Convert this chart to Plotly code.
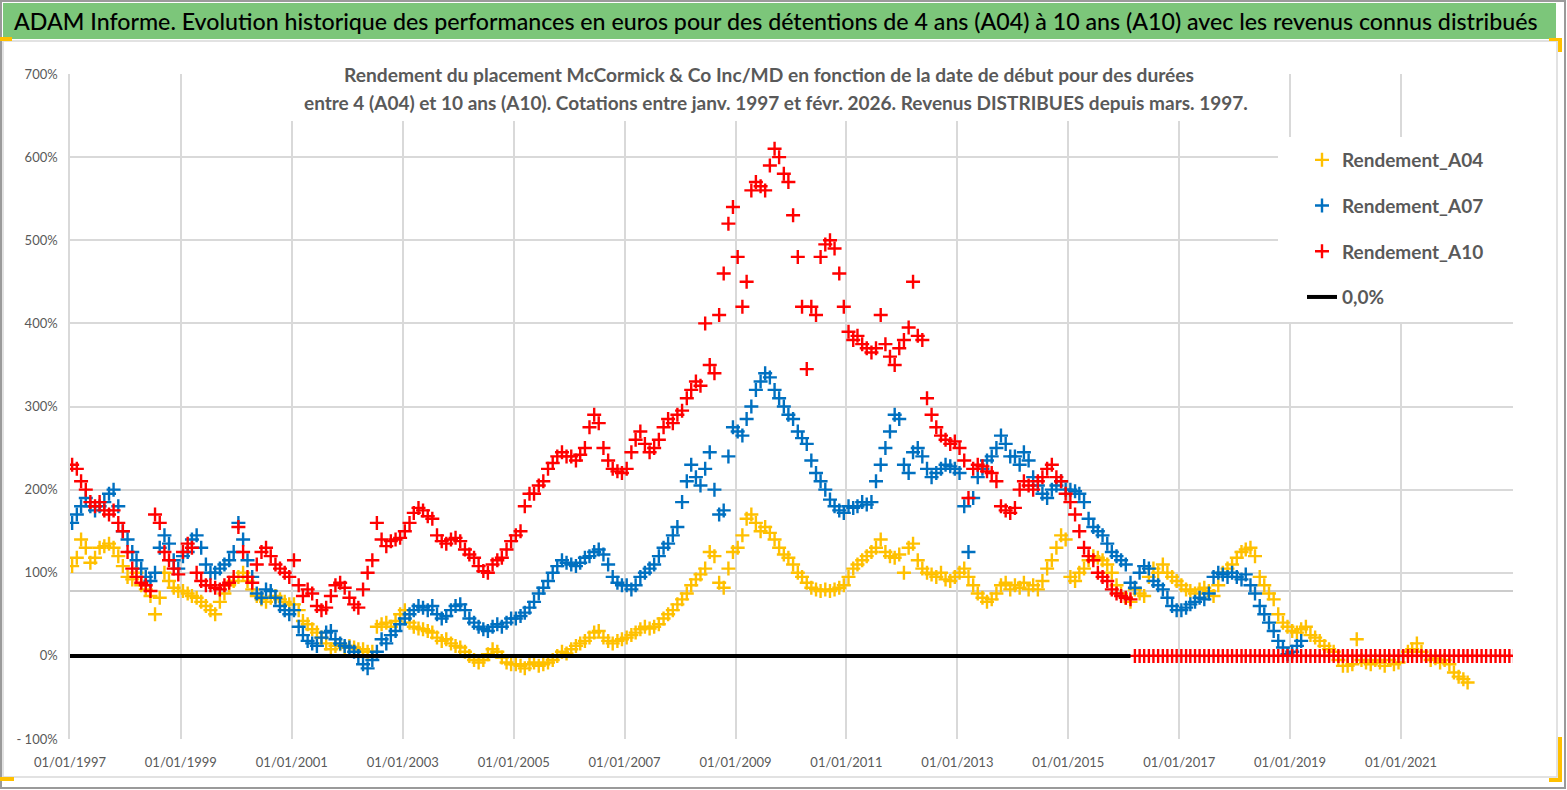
"""Rendement McCormick & Co - durées A04 / A07 / A10 (reprise du graphique ADAM)"""
import pandas as pd
import plotly.graph_objects as go

W, H = 1567, 790
# zone de tracé en pixels (gauche, droite, haut, bas)
L, R, T, B = 70, 1513, 74, 739
FONT = "Lato, Carlito, Calibri, sans-serif"
GREY = "#595959"

# Première date des séries mensuelles
START = "1997-01-01"

# Rendement_A04 (%), mensuel janv. 1997 -> mars 2022
a04_values = [
    108, 118, 140, 130, 112, 118, 130, 132, 135, 130, 120, 108,  # 1997
    95, 92, 100, 85, 80, 72, 50, 70, 100, 90, 82, 78,  # 1998
    78, 75, 72, 70, 65, 60, 55, 50, 65, 75, 85, 90,  # 1999
    95, 100, 90, 80, 72, 68, 65, 70, 72, 68, 65, 62,  # 2000
    62, 55, 42, 38, 32, 28, 22, 15, 8, 12, 14, 10,  # 2001
    12, 10, 8, 8, 5, 5, 35, 38, 40, 35, 42, 50,  # 2002
    55, 40, 35, 33, 32, 30, 28, 22, 18, 20, 15, 12,  # 2003
    10, 5, 0, -5, -8, -5, 2, 8, 5, -2, -8, -10,  # 2004
    -10, -12, -15, -10, -8, -12, -10, -8, -5, 0, 5, 3,  # 2005
    8, 12, 15, 18, 22, 28, 30, 22, 18, 15, 18, 20,  # 2006
    22, 25, 28, 32, 35, 33, 35, 38, 45, 50, 55, 62,  # 2007
    68, 75, 85, 92, 98, 105, 125, 120, 88, 82, 105, 125,  # 2008
    130, 145, 165, 170, 160, 150, 155, 148, 140, 130, 122, 118,  # 2009
    110, 100, 95, 88, 82, 80, 78, 80, 78, 80, 82, 85,  # 2010
    95, 105, 110, 115, 120, 125, 130, 140, 125, 120, 118, 122,  # 2011
    100, 130, 135, 115, 105, 100, 98, 95, 100, 92, 90, 95,  # 2012
    100, 105, 95, 85, 75, 70, 65, 68, 75, 85, 88, 80,  # 2013
    85, 82, 88, 80, 85, 80, 90, 105, 115, 130, 145, 140,  # 2014
    95, 90, 100, 105, 115, 120, 118, 115, 110, 100, 85, 75,  # 2015
    70, 65, 80, 75, 72, 95, 105, 100, 110, 100, 95, 90,  # 2016
    85, 80, 78, 75, 80, 82, 78, 72, 85, 100, 105, 110,  # 2017
    118, 125, 128, 130, 120, 95, 85, 75, 68, 50, 40, 35,  # 2018
    30, 28, 32, 35, 25, 22, 18, 12, 8, 5, -5, -12,  # 2019
    -12, -10, 20, -5, -8, -10, -5, -8, -12, -5, -10, -8,  # 2020
    0, 5, 8, 15, 5, 0, -5, -3, -8, -5, -10, -20,  # 2021
    -25, -28, -32,  # 2022
]

# Rendement_A07 (%), mensuel janv. 1997 -> mars 2019
a07_values = [
    160, 170, 180, 190, 180, 175, 180, 185, 195, 200, 180, 150,  # 1997
    140, 125, 115, 105, 95, 90, 100, 130, 145, 135, 115, 105,  # 1998
    120, 125, 140, 145, 130, 110, 100, 100, 105, 110, 115, 125,  # 1999
    160, 140, 115, 95, 75, 70, 80, 78, 70, 60, 55, 50,  # 2000
    55, 35, 25, 18, 15, 12, 22, 28, 30, 20, 15, 12,  # 2001
    10, 5, 0, -10, -15, -5, 5, 20, 15, 25, 30, 38,  # 2002
    45, 50, 55, 60, 58, 55, 60, 50, 45, 48, 55, 60,  # 2003
    62, 55, 45, 40, 35, 32, 30, 35, 38, 35, 40, 45,  # 2004
    45, 48, 52, 58, 65, 75, 82, 90, 100, 108, 115, 112,  # 2005
    110, 108, 112, 118, 120, 125, 128, 122, 110, 95, 88, 85,  # 2006
    85, 80, 85, 95, 100, 105, 110, 120, 130, 135, 145, 155,  # 2007
    185, 210, 230, 215, 205, 225, 245, 200, 170, 175, 240, 275,  # 2008
    270, 265, 285, 300, 320, 330, 340, 335, 320, 310, 300, 290,  # 2009
    285, 270, 262, 255, 235, 220, 210, 200, 188, 180, 175, 172,  # 2010
    180, 178, 180, 185, 182, 185, 210, 230, 250, 270, 290, 285,  # 2011
    230, 220, 245, 250, 240, 225, 215, 220, 225, 230, 228, 225,  # 2012
    220, 180, 125, 190, 215, 225, 235, 240, 250, 265, 255, 240,  # 2013
    240, 230, 245, 235, 215, 205, 195, 190, 200, 205, 210, 200,  # 2014
    200, 198, 195, 185, 165, 155, 150, 145, 135, 125, 120, 115,  # 2015
    110, 88, 82, 100, 108, 105, 90, 85, 80, 70, 60, 55,  # 2016
    55, 58, 62, 65, 70, 68, 75, 95, 100, 98, 95, 100,  # 2017
    95, 92, 98, 85, 75, 60, 50, 40, 30, 18, 10, 2,  # 2018
    5, 12, 18,  # 2019
]

# Rendement_A10 (%), mensuel janv. 1997 -> janv. 2023 (0 après févr. 2016)
a10_values = [
    230, 225, 210, 200, 185, 180, 185, 175, 170, 175, 160, 150,  # 1997
    125, 105, 95, 88, 85, 78, 170, 160, 125, 115, 105, 98,  # 1998
    125, 135, 130, 100, 90, 85, 85, 82, 80, 85, 88, 95,  # 1999
    155, 125, 95, 88, 110, 125, 130, 120, 110, 105, 100, 95,  # 2000
    115, 85, 72, 80, 75, 60, 55, 58, 72, 85, 88, 82,  # 2001
    70, 62, 58, 80, 100, 115, 160, 140, 132, 138, 140, 142,  # 2002
    150, 160, 172, 178, 175, 168, 165, 145, 138, 135, 140, 142,  # 2003
    138, 128, 122, 118, 108, 102, 100, 110, 115, 118, 128, 138,  # 2004
    145, 150, 180, 195, 195, 205, 210, 225, 232, 240, 245, 240,  # 2005
    240, 235, 242, 250, 275, 290, 280, 250, 235, 225, 222, 220,  # 2006
    225, 245, 260, 270, 255, 245, 250, 260, 275, 285, 280, 290,  # 2007
    295, 310, 320, 330, 325, 400, 350, 340, 410, 460, 520, 540,  # 2008
    480, 420, 450, 560, 570, 565, 560, 590, 610, 600, 580, 570,  # 2009
    530, 480, 420, 345, 420, 410, 480, 495, 500, 490, 460, 420,  # 2010
    390, 380, 385, 375, 370, 365, 370, 410, 375, 360, 350, 370,  # 2011
    380, 395, 450, 385, 380, 310, 290, 275, 265, 260, 255, 258,  # 2012
    250, 235, 190, 225, 230, 228, 222, 220, 210, 180, 175, 172,  # 2013
    178, 200, 210, 205, 200, 210, 215, 225, 230, 215, 210, 195,  # 2014
    185, 170, 150, 130, 120, 115, 100, 95, 90, 80, 75, 72,  # 2015
    70, 68, 0, 0, 0, 0, 0, 0, 0, 0, 0, 0,  # 2016
    0, 0, 0, 0, 0, 0, 0, 0, 0, 0, 0, 0,  # 2017
    0, 0, 0, 0, 0, 0, 0, 0, 0, 0, 0, 0,  # 2018
    0, 0, 0, 0, 0, 0, 0, 0, 0, 0, 0, 0,  # 2019
    0, 0, 0, 0, 0, 0, 0, 0, 0, 0, 0, 0,  # 2020
    0, 0, 0, 0, 0, 0, 0, 0, 0, 0, 0, 0,  # 2021
    0, 0, 0, 0, 0, 0, 0, 0, 0, 0, 0, 0,  # 2022
    0,  # 2023
]

# Ligne 0,0 %
zero_dates = ["1997-01-01", "2016-02-15"]
zero_values = [0, 0]

# Axes
x_tick_years = list(range(1997, 2022, 2))
y_tick_values = [-100, 0, 100, 200, 300, 400, 500, 600, 700]
y_tick_labels = ["- 100%", "0%", "100%", "200%", "300%", "400%", "500%", "600%", "700%"]
extra_grid_level = 78  # ligne grise supplémentaire sous 100 %

TITLE = ("ADAM Informe. Evolution historique des performances en euros pour des détentions "
         "de 4 ans (A04) à 10 ans (A10) avec les revenus connus distribués")
SUB1 = ("Rendement du placement McCormick & Co Inc/MD en fonction de la date de début "
        "pour des durées")
SUB2 = ("entre 4 (A04) et 10 ans (A10). Cotations entre janv. 1997 et févr. 2026. "
        "Revenus DISTRIBUES depuis mars. 1997.")


def px(x):
    # pixel horizontal -> coordonnée paper (relative à la zone de tracé)
    return (x - L) / (R - L)


def py(y):
    # pixel vertical (depuis le haut) -> coordonnée paper
    return (B - y) / (B - T)


def monthly(values):
    return pd.date_range(START, periods=len(values), freq="MS") + pd.Timedelta(days=14)


fig = go.Figure()

series = [
    ("Rendement_A04", a04_values, "#FFC000"),
    ("Rendement_A07", a07_values, "#0070C0"),
    ("Rendement_A10", a10_values, "#FF0000"),
]
for name, vals, color in series:
    fig.add_trace(go.Scatter(
        x=monthly(vals), y=vals, name=name, mode="markers",
        legendgroup=name,  # un groupe par série -> espacement de légende
        marker=dict(symbol="cross-thin", size=10, color=color,
                    line=dict(color=color, width=2.4)),
    ))

fig.add_trace(go.Scatter(
    x=zero_dates, y=zero_values, name="0,0%", mode="lines", legendgroup="zero",
    line=dict(color="black", width=4),
))

shapes = [
    # cadre extérieur
    dict(type="rect", xref="paper", yref="paper", x0=px(1), x1=px(1565), y0=py(788), y1=py(1),
         line=dict(color="#9a9a9a", width=2), layer="below"),
    # bandeau vert
    dict(type="rect", xref="paper", yref="paper", x0=px(3), x1=px(1556), y0=py(39), y1=py(3),
         fillcolor="#7cc67a", line=dict(width=0), layer="below"),
    # cadre du graphique
    dict(type="rect", xref="paper", yref="paper", x0=px(3), x1=px(1557), y0=py(777), y1=py(41),
         line=dict(color="#d9d9d9", width=1.5), layer="below"),
    # ligne grise supplémentaire
    dict(type="line", xref="paper", yref="y", x0=0, x1=1,
         y0=extra_grid_level, y1=extra_grid_level,
         line=dict(color="#cccccc", width=2), layer="below"),
    # fond blanc du sous-titre et de la légende
    dict(type="rect", xref="paper", yref="paper", x0=px(205), x1=px(1247), y0=py(121), y1=py(50),
         fillcolor="white", line=dict(width=0), layer="above"),
    dict(type="rect", xref="paper", yref="paper", x0=px(1278), x1=px(1515), y0=py(322), y1=py(137),
         fillcolor="white", line=dict(width=0), layer="above"),
]
# poignées jaunes de sélection
for x0, x1, y0, y1 in [(0, 12, 37, 41), (1549, 1562, 38, 41), (1558, 1562, 38, 52),
                       (0, 14, 777, 781), (1558, 1562, 737, 782), (1549, 1562, 778, 782)]:
    shapes.append(dict(type="rect", xref="paper", yref="paper", x0=px(x0), x1=px(x1),
                       y0=py(y1), y1=py(y0), fillcolor="#FFC000", line=dict(width=0),
                       layer="above"))

annotations = [
    dict(text=TITLE, xref="paper", yref="paper", x=px(12), y=py(21), xanchor="left",
         yanchor="middle", showarrow=False,
         font=dict(family=FONT, size=23.2, color="black", weight=500)),
    dict(text="<b>" + SUB1 + "</b>", xref="paper", yref="paper", x=px(769), y=py(74),
         xanchor="center", yanchor="middle", showarrow=False,
         font=dict(family=FONT, size=19.2, color=GREY)),
    dict(text="<b>" + SUB2 + "</b>", xref="paper", yref="paper", x=px(776), y=py(102),
         xanchor="center", yanchor="middle", showarrow=False,
         font=dict(family=FONT, size=19, color=GREY)),
]

fig.update_layout(
    width=W, height=H, autosize=False,
    margin=dict(l=L, r=W - R, t=T, b=H - B),
    paper_bgcolor="white", plot_bgcolor="white",
    font=dict(family=FONT, color=GREY),
    shapes=shapes, annotations=annotations,
    legend=dict(x=px(1302), y=py(141), xanchor="left", yanchor="top",
                bgcolor="rgba(0,0,0,0)", tracegroupgap=18,
                font=dict(family=FONT, size=19, color=GREY, weight="bold"),
                itemwidth=30),
    xaxis=dict(
        type="date", range=[START, "2023-01-08"],
        tickvals=[f"{y}-01-01" for y in x_tick_years],
        ticktext=[f"01/01/{y}" for y in x_tick_years],
        showgrid=True, gridcolor="#d9d9d9", gridwidth=1.5,
        ticks="", tickfont=dict(size=13, color=GREY), ticklabelstandoff=14,
        showline=False, zeroline=False,
    ),
    yaxis=dict(
        range=[-100, 700], tickvals=y_tick_values, ticktext=y_tick_labels,
        showgrid=True, gridcolor="#d9d9d9", gridwidth=1.5,
        ticks="", tickfont=dict(size=13, color=GREY), ticklabelstandoff=8,
        showline=True, linecolor="#d9d9d9", linewidth=1.5, zeroline=False,
    ),
)

fig.write_html("out.html", config={"displayModeBar": False},
               post_script="document.body.style.margin='0';document.body.style.overflow='hidden';")
